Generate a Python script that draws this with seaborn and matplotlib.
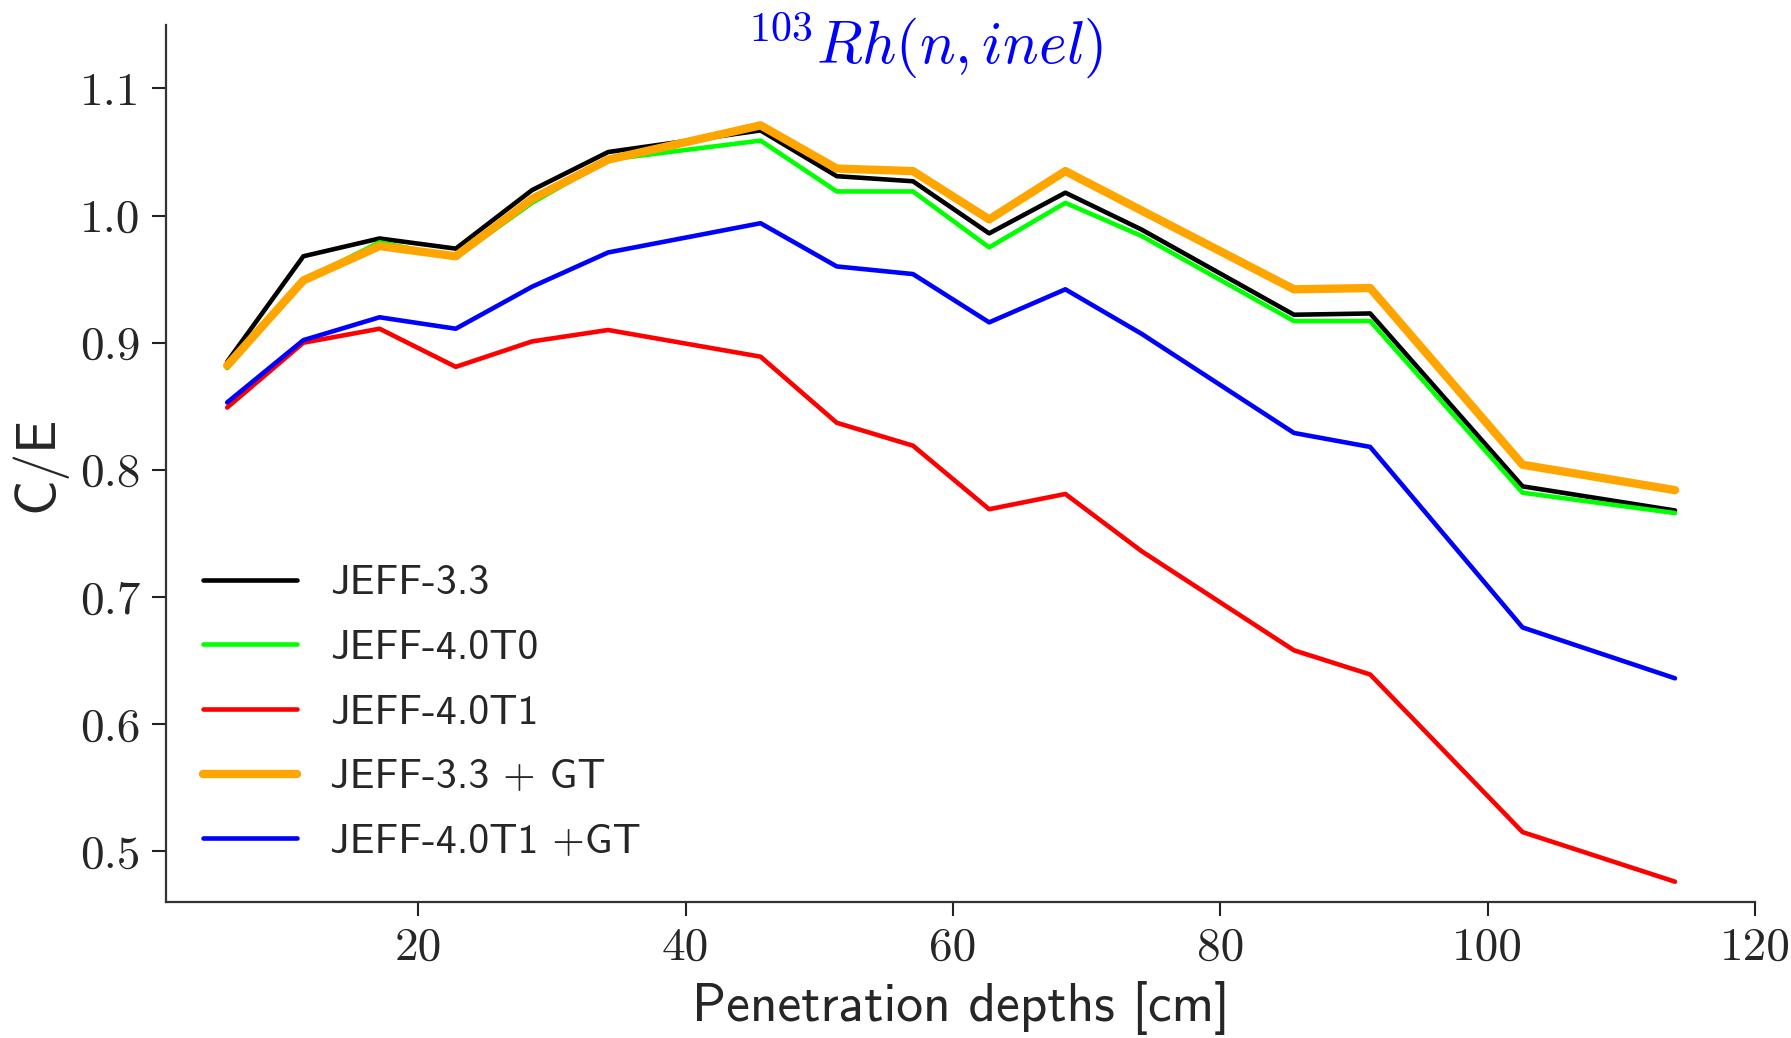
import numpy as np
import pandas as pd
import matplotlib
matplotlib.use("Agg")
import matplotlib.pyplot as plt
import seaborn as sns

depth = [5.7, 11.4, 17.1, 22.8, 28.5, 34.2, 45.6, 51.3, 57.0, 62.7, 68.4, 74.1, 85.5, 91.2, 102.6, 114.0]

jeff33 = [0.885, 0.968, 0.982, 0.974, 1.020, 1.050, 1.067, 1.031, 1.027, 0.986, 1.018, 0.989, 0.922, 0.923, 0.787, 0.768]
jeff40t0 = [0.880, 0.949, 0.979, 0.967, 1.010, 1.044, 1.059, 1.019, 1.019, 0.975, 1.010, 0.984, 0.917, 0.917, 0.782, 0.766]
jeff40t1 = [0.849, 0.900, 0.911, 0.881, 0.901, 0.910, 0.889, 0.837, 0.819, 0.769, 0.781, 0.736, 0.658, 0.639, 0.515, 0.476]
jeff33_gt = [0.882, 0.949, 0.976, 0.968, 1.013, 1.044, 1.071, 1.037, 1.035, 0.997, 1.035, 1.004, 0.942, 0.943, 0.804, 0.784]
jeff40t1_gt = [0.853, 0.902, 0.920, 0.911, 0.944, 0.971, 0.994, 0.960, 0.954, 0.916, 0.942, 0.907, 0.829, 0.818, 0.676, 0.636]

labels = ["JEFF-3.3", "JEFF-4.0T0", "JEFF-4.0T1", "JEFF-3.3 + GT", "JEFF-4.0T1 +GT"]
series = [jeff33, jeff40t0, jeff40t1, jeff33_gt, jeff40t1_gt]
colors = ["#000000", "#00ff00", "#ff0000", "#ffa500", "#0000ff"]
widths = [3.3, 3.3, 3.3, 6.0, 3.3]

sns.set_theme(style="ticks")
plt.rcParams["mathtext.fontset"] = "cm"
plt.rcParams["font.family"] = ["DejaVu Sans"]

fig = plt.figure(figsize=(17.91, 10.38), dpi=100)
ax = fig.add_axes([0.0925, 0.131, 0.8875, 0.845])

for lab, vals, c, w in zip(labels, series, colors, widths):
    df = pd.DataFrame({"depth": depth, "ce": vals})
    sns.lineplot(data=df, x="depth", y="ce", ax=ax, color=c, linewidth=w, label=lab)

ax.set_xlim(1.1, 120)
ax.set_ylim(0.46, 1.15)
ax.set_xticks([20, 40, 60, 80, 100, 120])
ax.set_yticks([0.5, 0.6, 0.7, 0.8, 0.9, 1.0, 1.1])
ax.set_xticklabels(["20", "40", "60", "80", "100", "120"])
ax.set_yticklabels(["0.5", "0.6", "0.7", "0.8", "0.9", "1.0", "1.1"])
for t in ax.get_xticklabels() + ax.get_yticklabels():
    t.set_fontfamily(["cmr10", "DejaVu Serif"])
    t.set_fontsize(34)

ax.tick_params(axis="both", direction="out", length=10, width=1.5, color="#222222", pad=8)
for s in ["left", "bottom"]:
    ax.spines[s].set_linewidth(1.6)
    ax.spines[s].set_color("#333333")
sns.despine(ax=ax)

ax.set_xlabel("Penetration depths [cm]", fontsize=38.5, family=["cmss10", "DejaVu Sans"], labelpad=9)
ax.set_ylabel("C/E", fontsize=40, family=["cmss10", "DejaVu Sans"], labelpad=10)

ax.text(0.478, 1.017, r"$^{103}Rh(n,inel)$", transform=ax.transAxes, ha="center", va="top",
        fontsize=43, color="#0000ff")

leg = ax.legend(loc="lower left", bbox_to_anchor=(0.0, 0.004), frameon=False,
                prop={"family": ["cmss10", "DejaVu Sans"], "size": 30},
                handlelength=2.25, handletextpad=0.8, labelspacing=0.66)

fig.savefig("out.png", dpi=100)
